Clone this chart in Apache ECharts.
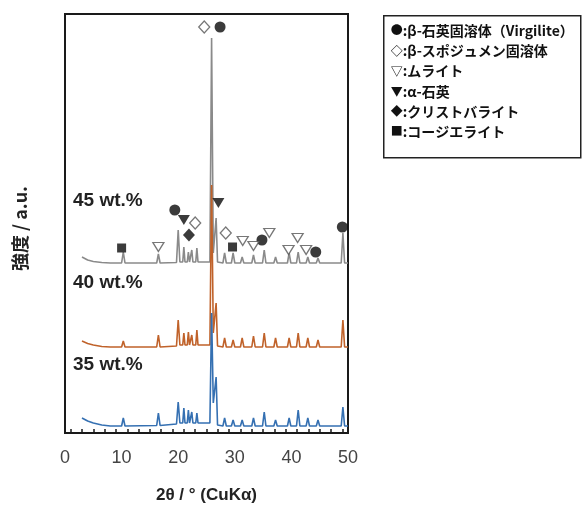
<!DOCTYPE html>
<html>
<head>
<meta charset="utf-8">
<script src="https://cdn.jsdelivr.net/npm/echarts@6/dist/echarts.min.js"></script>
<style>
  html, body { margin: 0; padding: 0; background: #fff; }
  #chart { width: 583px; height: 507px; }
</style>
</head>
<body>
<div id="chart"></div>
<script>
// XRD patterns of the fired bodies, offset vertically (2θ in degrees, intensity in a.u.)
const trace45 = [
  [3,176],[4,173],[5,171.5],[6.5,170.5],[8,170],
  [10.0,170],[10.3,181],[10.6,170],
  [16.2,170],[16.5,179],[16.8,170],
  [19.7,170.5],[20.0,203],[20.3,171],
  [20.8,171],[21.0,186],[21.2,171],
  [21.6,171],[21.8,181],[22.0,171],
  [22.2,171],[22.4,183],[22.6,171],
  [23.1,171],[23.3,185],[23.5,171],
  [25.6,171],[25.9,395],[26.2,180],[26.45,178],[26.7,215],[26.95,171],
  [27.9,170],[28.2,180],[28.5,170],
  [29.4,170],[29.7,180],[30.0,170],
  [31.0,170],[31.3,176],[31.6,170],
  [33.0,170],[33.3,178],[33.6,170],
  [34.9,170],[35.2,183],[35.5,170],
  [36.9,170],[37.2,176],[37.5,170],
  [39.3,170],[39.6,180],[39.9,170],
  [40.9,170],[41.2,181],[41.5,170],
  [42.6,170],[42.9,176],[43.2,170],
  [44.4,170],[44.7,175],[45.0,170],
  [48.8,170],[49.1,200],[49.4,170],
  [50,170]
];
const trace40 = [
  [3,92],[4,89.5],[5,88],[6.5,86.5],[8,86],
  [10.0,86],[10.3,92],[10.6,86],
  [16.2,86],[16.5,98],[16.8,86],
  [19.7,87],[20.0,113],[20.3,88],
  [20.8,88],[21.0,100],[21.2,88],
  [21.6,88],[21.8,101],[22.0,88],
  [22.2,88],[22.4,98],[22.6,88],
  [23.1,88],[23.3,103],[23.5,88],
  [25.6,88],[25.9,248],[26.2,100],[26.45,98],[26.7,130],[26.95,87],
  [27.9,86],[28.2,95],[28.5,86],
  [29.4,86],[29.7,93],[30.0,86],
  [31.0,86],[31.3,95],[31.6,86],
  [33.0,86],[33.3,97],[33.6,86],
  [34.9,86],[35.2,100],[35.5,86],
  [36.9,86],[37.2,95],[37.5,86],
  [39.3,86],[39.6,95],[39.9,86],
  [40.9,86],[41.2,100],[41.5,86],
  [42.6,86],[42.9,95],[43.2,86],
  [44.4,86],[44.7,93],[45.0,86],
  [48.8,86],[49.1,113],[49.4,86],
  [50,86]
];
const trace35 = [
  [3,15],[4,12],[5,10],[6.5,8],[8,7],
  [10.0,7],[10.3,15],[10.6,7],
  [16.2,7.5],[16.5,20],[16.8,7.5],
  [19.7,9],[20.0,31],[20.3,10],
  [20.8,10],[21.0,25],[21.2,10],
  [21.6,10],[21.8,23],[22.0,10],
  [22.2,10],[22.4,21],[22.6,10],
  [23.1,10],[23.3,20],[23.5,10],
  [25.6,10],[25.9,120],[26.2,30],[26.45,28],[26.7,56],[26.95,8],
  [27.9,7],[28.2,15],[28.5,7],
  [29.4,7],[29.7,13],[30.0,7],
  [31.0,7],[31.3,13],[31.6,7],
  [33.0,7],[33.3,15],[33.6,7],
  [34.9,7],[35.2,21],[35.5,7],
  [36.9,7],[37.2,13],[37.5,7],
  [39.3,7],[39.6,15],[39.9,7],
  [40.9,7],[41.2,23],[41.5,7],
  [42.6,7],[42.9,15],[43.2,7],
  [44.4,7],[44.7,13],[45.0,7],
  [48.8,7],[49.1,26],[49.4,7],
  [50,7]
];

// Phase identification marks on the 45 wt.% pattern
const virgiliteMarks    = [[19.4,223],[34.8,193],[44.3,181],[49.0,206],[27.4,406]];
const spodumeneMarks    = [[23.0,210],[28.4,200],[24.6,406]];
const mulliteMarks      = [[16.5,186],[31.4,192],[33.3,187],[36.1,200],[39.5,183],[41.1,195],[42.6,183]];
const quartzMarks       = [[21.0,213],[27.1,230]];
const cristobaliteMarks = [[21.9,198]];
const cordieriteMarks   = [[10.0,185],[29.6,186]];

const sampleLabels = ['45 wt.%', '40 wt.%', '35 wt.%'];
const legendSymbols = ['●', '◇', '▽', '▼', '◆', '■'];
const legendNames = [
  ':β-石英固溶体（Virgilite）',
  ':β-スポジュメン固溶体',
  ':ムライト',
  ':α-石英',
  ':クリストバライト',
  ':コージエライト'
];
const xTickLabels = [0, 10, 20, 30, 40, 50];
const xMinorTicks = [1,3,5,7,9,11,13,15,17,19,21,23,25,27,29,31,33,35,37,39,41,43,45,47,49];

const chart = echarts.init(document.getElementById('chart'), null, { renderer: 'canvas' });

const lineSeries = (name, data, color) => ({
  name, type: 'line', data, showSymbol: false, symbol: 'none',
  lineStyle: { color, width: 1.6 }, z: 2
});
const markSeries = (name, data, symbol, size, filled, rotate) => ({
  name, type: 'scatter', data, symbol, symbolSize: size, symbolRotate: rotate || 0,
  itemStyle: filled
    ? { color: '#0a0a0a' }
    : { color: '#fff', borderColor: '#555', borderWidth: 1.3 },
  z: 5
});

const labelFont = 'bold 19px "Liberation Sans", Arial, sans-serif';
const labelTops = [191, 273, 355];

const graphic = sampleLabels.map((t, i) => ({
  type: 'text', left: 73, top: labelTops[i],
  style: { text: t, font: labelFont, fill: '#222' }, z: 10
}));
graphic.push({
  type: 'group', left: 383, top: 15,
  children: [
    { type: 'rect', shape: { x: 0, y: 0, width: 197, height: 142 },
      style: { fill: '#fff', stroke: '#222', lineWidth: 1.5 } }
  ].concat(legendNames.map((t, i) => ({
    type: 'text', x: 7, y: 15 + i * 20.2,
    style: {
      text: '{s|' + legendSymbols[i] + '}{t|' + t + '}',
      verticalAlign: 'middle',
      rich: {
        s: { fontFamily: '"Noto Sans CJK JP", sans-serif', fontSize: 12, fontWeight: 'bold', fill: '#111', width: 12 },
        t: { fontFamily: '"Noto Sans CJK JP", sans-serif', fontSize: 14, fontWeight: 'bold', fill: '#111' }
      }
    }
  })))
});

chart.setOption({
  animation: false,
  backgroundColor: '#fff',
  grid: { left: 65, right: 235, top: 14, bottom: 74, show: true, outerBoundsMode: 'none',
          containLabel: false,
          borderColor: '#1a1a1a', borderWidth: 2, backgroundColor: 'transparent' },
  xAxis: {
    type: 'value', min: 0, max: 50, interval: 10,
    axisLine: { show: false },
    axisTick: { show: true, inside: true, length: 4, customValues: xMinorTicks,
                lineStyle: { color: '#1a1a1a', width: 1.5 } },
    axisLabel: { customValues: xTickLabels, fontSize: 18, color: '#444', margin: 16,
                 fontFamily: '"Liberation Sans", Arial, sans-serif' },
    splitLine: { show: false },
    name: '2θ / ° (CuKα)', nameLocation: 'middle', nameGap: 54,
    nameTextStyle: { fontSize: 17, fontWeight: 'bold', color: '#222',
                     fontFamily: '"Liberation Sans", Arial, sans-serif' }
  },
  yAxis: {
    type: 'value', min: 0, max: 419,
    axisLine: { show: false }, axisTick: { show: false },
    axisLabel: { show: false }, splitLine: { show: false },
    name: '強度 / a.u.', nameLocation: 'middle', nameGap: 36, nameRotate: 90,
    nameTextStyle: { fontSize: 18, fontWeight: 'bold', color: '#222',
                     fontFamily: '"Noto Sans CJK JP", sans-serif', padding: [0, 10, 0, 0] }
  },
  series: [
    lineSeries('45 wt.%', trace45, '#8a8a8a'),
    lineSeries('40 wt.%', trace40, '#c0622a'),
    lineSeries('35 wt.%', trace35, '#3570b2'),
    markSeries('β-石英固溶体', virgiliteMarks, 'circle', 11, true),
    markSeries('β-スポジュメン固溶体', spodumeneMarks, 'diamond', [11, 12], false),
    markSeries('ムライト', mulliteMarks, 'triangle', [11, 9], false, 180),
    markSeries('α-石英', quartzMarks, 'triangle', [12, 10], true, 180),
    markSeries('クリストバライト', cristobaliteMarks, 'diamond', [12, 13], true),
    markSeries('コージエライト', cordieriteMarks, 'rect', [9, 9], true)
  ],
  graphic
});
</script>
</body>
</html>
